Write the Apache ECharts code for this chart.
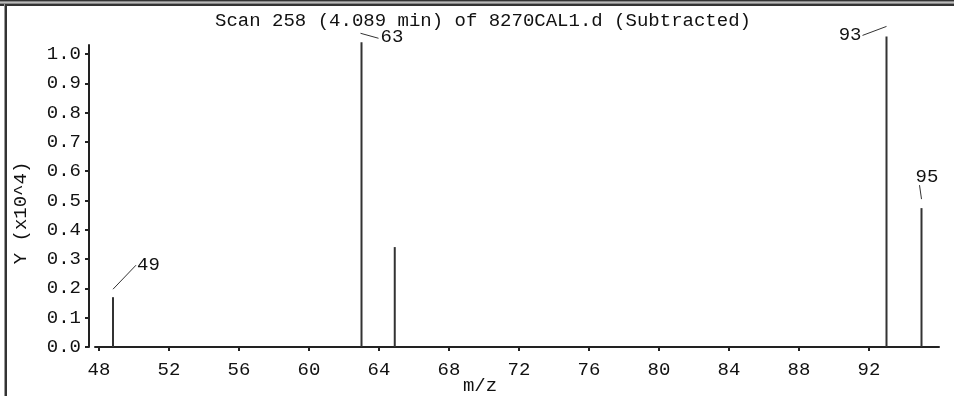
<!DOCTYPE html>
<html>
<head>
<meta charset="utf-8">
<script src="https://cdn.jsdelivr.net/npm/echarts@6/dist/echarts.min.js"></script>
<style>html,body{margin:0;padding:0;background:#fff}#c{width:954px;height:396px}</style>
</head>
<body>
<div id="c"></div>
<script>
// ---- data ----
var titleText = 'Scan 258 (4.089 min) of 8270CAL1.d (Subtracted)';
var mzValues = [48.8, 63.0, 64.9, 93.0, 95.0];
var intensities = [0.17, 1.04, 0.341, 1.06, 0.474];
var peakLabels = ['49', '63', '', '93', '95'];
var xTicks = [48, 52, 56, 60, 64, 68, 72, 76, 80, 84, 88, 92];
var yTicks = [0, 0.1, 0.2, 0.3, 0.4, 0.5, 0.6, 0.7, 0.8, 0.9, 1.0];
var xName = 'm/z';
var yName = 'Y (x10^4)';

// ---- styles (leader offsets relative to peak top, px) ----
var leaderStyle = {
  '49': {s: [0, -8], e: [23, -32], t: [24, -32], align: 'left'},
  '63': {s: [-1, -9], e: [17, -4], t: [19, -5], align: 'left'},
  '93': {s: [0, -10], e: [-24, -1], t: [-25, -1], align: 'right'},
  '95': {s: [0, -9], e: [-2, -23], t: [-6, -31], align: 'left'}
};
var FONT = '"Liberation Mono", "DejaVu Sans Mono", monospace';
var FS = 19;

var barData = mzValues.map(function (m, i) { return [m, intensities[i]]; });
var labelData = [];
mzValues.forEach(function (m, i) { if (peakLabels[i]) labelData.push([m, intensities[i], peakLabels[i]]); });

var chart = echarts.init(document.getElementById('c'), null, {renderer: 'canvas'});
chart.setOption({
  animation: false,
  backgroundColor: '#fff',
  grid: {left: 95, right: 15, top: 45, bottom: 49, containLabel: false},
  xAxis: {
    type: 'value', min: 47.771, max: 96, offset: 6,
    splitLine: {show: false},
    axisLine: {lineStyle: {color: '#222', width: 2}},
    axisTick: {length: 4, lineStyle: {color: '#222', width: 2}, customValues: xTicks},
    axisLabel: {color: '#111', fontFamily: FONT, fontSize: FS, margin: 7, customValues: xTicks,
      formatter: function (v) { return String(v); }}
  },
  yAxis: {
    type: 'value', min: 0, max: 1.0307, offset: 6,
    splitLine: {show: false},
    axisLine: {show: true, lineStyle: {color: '#222', width: 2}},
    axisTick: {show: true, length: 4, lineStyle: {color: '#222', width: 2}, customValues: yTicks},
    axisLabel: {color: '#111', fontFamily: FONT, fontSize: FS, margin: 8, customValues: yTicks,
      formatter: function (v) { return v.toFixed(1); }}
  },
  graphic: [
    {type: 'rect', shape: {x: 0, y: 0, width: 954, height: 1}, style: {fill: '#333'}},
    {type: 'rect', shape: {x: 0, y: 1, width: 954, height: 1}, style: {fill: '#888'}},
    {type: 'rect', shape: {x: 0, y: 2, width: 954, height: 1}, style: {fill: '#bbb'}},
    {type: 'rect', shape: {x: 0, y: 3, width: 954, height: 1}, style: {fill: '#888'}},
    {type: 'rect', shape: {x: 0, y: 4, width: 954, height: 2}, style: {fill: '#333'}},
    {type: 'rect', shape: {x: 4, y: 4, width: 1, height: 392}, style: {fill: '#999'}},
    {type: 'rect', shape: {x: 5, y: 4, width: 2, height: 392}, style: {fill: '#333'}},
    {type: 'text', x: 483, y: 21, style: {text: titleText, font: FS + 'px ' + FONT, fill: '#111', align: 'center', verticalAlign: 'middle'}},
    {type: 'text', x: 480, y: 386, style: {text: xName, font: FS + 'px ' + FONT, fill: '#111', align: 'center', verticalAlign: 'middle'}},
    {type: 'text', x: 21, y: 213, rotation: Math.PI / 2, style: {text: yName, font: FS + 'px ' + FONT, fill: '#111', align: 'center', verticalAlign: 'middle'}}
  ],
  series: [
    {
      type: 'bar', data: barData, barWidth: 2, clip: false,
      itemStyle: {color: '#333'}
    },
    {
      type: 'custom', data: labelData, clip: false,
      encode: {x: 0, y: 1},
      renderItem: function (params, api) {
        var p = api.coord([api.value(0), api.value(1)]);
        var lbl = labelData[params.dataIndex][2];
        var st = leaderStyle[lbl];
        return {
          type: 'group',
          children: [
            {type: 'line', shape: {x1: p[0] + st.s[0], y1: p[1] + st.s[1], x2: p[0] + st.e[0], y2: p[1] + st.e[1]},
              style: {stroke: '#333', lineWidth: 1}},
            {type: 'text', x: p[0] + st.t[0], y: p[1] + st.t[1],
              style: {text: lbl, font: FS + 'px ' + FONT, fill: '#111', align: st.align, verticalAlign: 'middle'}}
          ]
        };
      }
    }
  ]
});
</script>
</body>
</html>
